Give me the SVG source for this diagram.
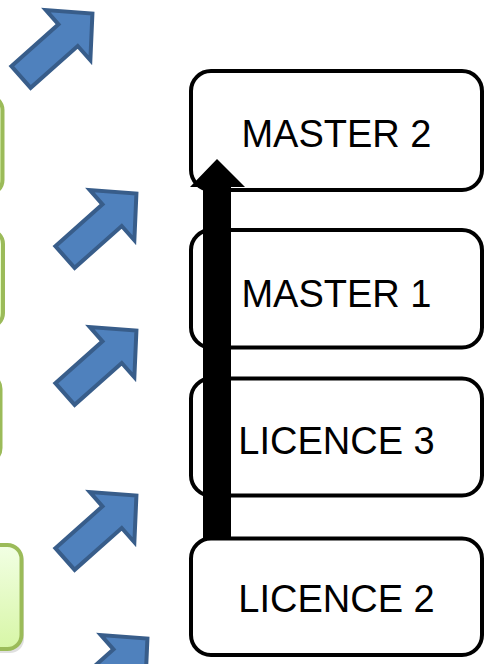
<svg xmlns="http://www.w3.org/2000/svg" width="500" height="664" viewBox="0 0 500 664">
<style>
.box{fill:#ffffff;stroke:#000000;stroke-width:4}
.lbl{font-family:"Liberation Sans",Arial,sans-serif;font-size:38px;fill:#000000;text-anchor:middle}
.gbox{fill:url(#gg);stroke:#9bbb59;stroke-width:4}
.blue{fill:#4f81bd;stroke:#385d8a;stroke-width:4;stroke-linejoin:miter}
</style>
<defs>
<linearGradient id="gg" x1="0" y1="0" x2="0" y2="1">
<stop offset="0" stop-color="#f2ffe4"/>
<stop offset="1" stop-color="#d7f6a6"/>
</linearGradient>
<path id="barrow" d="M0,-14.5 L63,-14.5 L63,-33.5 L95.5,0 L63,33.5 L63,14.5 L0,14.5 Z"/>
</defs>
<rect width="500" height="664" fill="#ffffff"/>
<g id="green-boxes">
<rect x="-200" y="96" width="202.5" height="98" rx="14" class="gbox"/>
<rect x="-200" y="230" width="203" height="97" rx="14" class="gbox"/>
<rect x="-200" y="375" width="200.5" height="87" rx="14" class="gbox"/>
<rect x="-176" y="548" width="200" height="105" rx="14" fill="#000" opacity="0.12"/>
<rect x="-180" y="545" width="201.5" height="104" rx="14" class="gbox"/>
</g>
<g id="blue-arrows">
<use href="#barrow" class="blue" transform="translate(21,77) rotate(-41.6)"/>
<use href="#barrow" class="blue" transform="translate(65,257) rotate(-41.6)"/>
<use href="#barrow" class="blue" transform="translate(65,394) rotate(-41.6)"/>
<use href="#barrow" class="blue" transform="translate(65,559) rotate(-41.6)"/>
<use href="#barrow" class="blue" transform="translate(76,702) rotate(-41.6)"/>
</g>
<g id="master2">
<rect x="191" y="71" width="291" height="119" rx="20" class="box"/>
<text x="336.5" y="147" class="lbl">MASTER 2</text>
</g>
<g id="master1">
<rect x="191" y="230" width="291" height="117.5" rx="20" class="box"/>
<text x="336.5" y="307" class="lbl">MASTER 1</text>
</g>
<g id="licence3">
<rect x="191" y="378.5" width="291" height="117" rx="20" class="box"/>
<text x="336.5" y="454" class="lbl">LICENCE 3</text>
</g>
<g id="connectors">
<path d="M203,540 L203,187 L190,187 L217,159 L245,187 L231,187 L231,540 Z" fill="#000000"/>
</g>
<g id="licence2">
<rect x="191" y="538.5" width="291" height="116.5" rx="20" class="box"/>
<text x="336.5" y="612" class="lbl">LICENCE 2</text>
</g>
</svg>
